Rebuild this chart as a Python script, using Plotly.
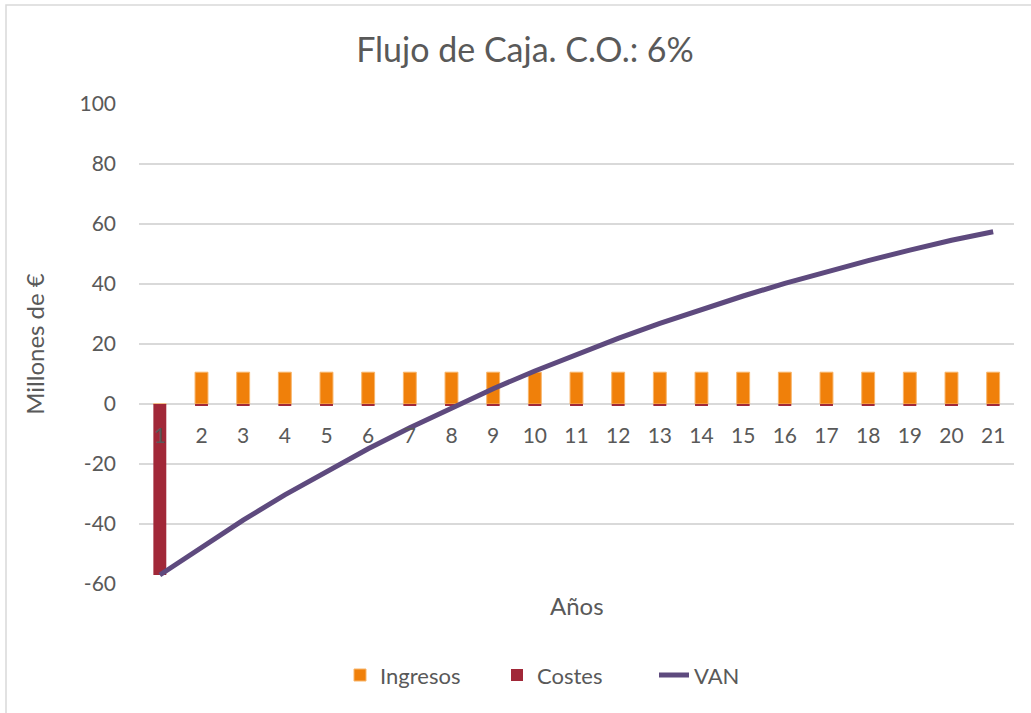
import plotly.graph_objects as go

years = list(range(1, 22))
ingresos = [0] + [10.6] * 20
costes = [-57.0] + [-0.6] * 20
van = [-57.0, -47.6, -38.7, -30.3, -22.4, -14.9, -7.9, -1.2, 5.1, 11.0, 16.6,
       21.9, 26.9, 31.6, 36.0, 40.2, 44.1, 47.8, 51.3, 54.6, 57.4]
y_ticks = [-60, -40, -20, 0, 20, 40, 60, 80, 100]
y_tick_text = ["-60", "-40", "-20", "0", "20", "40", "60", "80", "100"]

TXT = "#595959"
GRID = "#D9D9D9"
FONT = "Lato, Carlito, 'Liberation Sans', sans-serif"

fig = go.Figure()
fig.add_trace(go.Bar(x=years, y=ingresos, name="Ingresos", width=0.31,
                     marker=dict(color="#F0800A", line=dict(color="#F8B56A", width=1))))
fig.add_trace(go.Bar(x=years, y=costes, name="Costes", width=0.31,
                     marker=dict(color="#A12838", line=dict(width=0))))
fig.add_trace(go.Scatter(x=years, y=van, name="VAN", mode="lines",
                         line=dict(color="#5E4A7E", width=5)))

fig.update_layout(
    width=1031, height=713,
    margin=dict(l=139, r=17, t=104, b=129),
    paper_bgcolor="white", plot_bgcolor="white",
    barmode="relative",
    font=dict(family=FONT, color=TXT, size=21),
    title=dict(text="Flujo de Caja. C.O.: 6%", x=525 / 1031, xanchor="center",
               y=1 - 50 / 713, yanchor="middle",
               font=dict(size=34, color=TXT, family=FONT)),
    xaxis=dict(range=[0.5, 21.5], tickmode="array", tickvals=years,
               ticktext=[str(v) for v in years],
               anchor="free", position=0.375,
               showgrid=False, zeroline=False, showline=False,
               ticks="outside", ticklen=0, ticklabelstandoff=13,
               tickfont=dict(size=21, color=TXT)),
    yaxis=dict(range=[-60, 100], tickmode="array", tickvals=y_ticks,
               ticktext=y_tick_text,
               showgrid=True, gridcolor=GRID, gridwidth=1.5,
               zeroline=True, zerolinecolor=GRID, zerolinewidth=1.5,
               showline=False, ticks="", ticklabelstandoff=22,
               tickfont=dict(size=21, color=TXT),
               title=dict(text="Millones de €", font=dict(size=24, color=TXT),
                          standoff=28)),
    legend=dict(orientation="h", x=(340 - 139) / 875, xanchor="left",
                y=-0.19, yanchor="middle", entrywidth=112, entrywidthmode="pixels",
                font=dict(size=22, color=TXT), traceorder="normal"),
    showlegend=True,
)

fig.add_annotation(text="Años", xref="paper", yref="paper", x=0.5, y=-0.044,
                   xanchor="center", yanchor="middle", showarrow=False,
                   font=dict(size=24, color=TXT, family=FONT))

fig.add_shape(type="rect", xref="paper", yref="paper",
              x0=(6 - 139) / 875, x1=(1040 - 139) / 875,
              y0=(584 - 720) / 480, y1=(584 - 5) / 480,
              line=dict(color="#D9D9D9", width=1.5), layer="below")

fig.write_html("out.html", config={"displayModeBar": False},
               post_script="document.body.style.margin='0';document.body.style.padding='0';")
